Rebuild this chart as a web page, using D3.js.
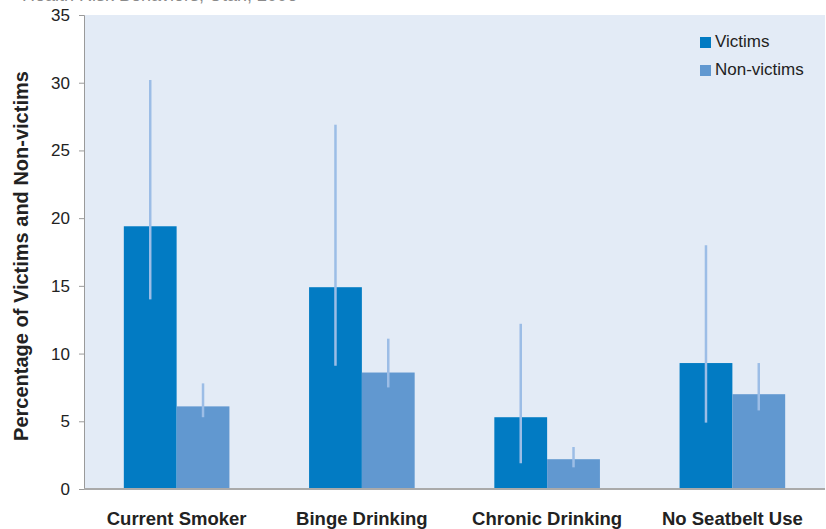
<!DOCTYPE html>
<html>
<head>
<meta charset="utf-8">
<script src="https://cdn.jsdelivr.net/npm/d3@7"></script>
<style>
  html, body { margin: 0; padding: 0; background: #fff; }
  svg { display: block; font-family: Arial, "Liberation Sans", sans-serif; }
</style>
</head>
<body>
<svg id="chart" width="826" height="529"></svg>
<script>
// Health risk behaviours: victims vs non-victims (percent, with confidence intervals)
const categories = ["Current Smoker", "Binge Drinking", "Chronic Drinking", "No Seatbelt Use"];
const seriesNames = ["Victims", "Non-victims"];
const victims = [19.4, 14.9, 5.3, 9.3];
const victimsLow = [14.0, 9.1, 1.9, 4.9];
const victimsHigh = [30.2, 26.9, 12.2, 18.0];
const nonVictims = [6.1, 8.6, 2.2, 7.0];
const nonVictimsLow = [5.3, 7.5, 1.6, 5.8];
const nonVictimsHigh = [7.8, 11.1, 3.1, 9.3];
const yTicks = [0, 5, 10, 15, 20, 25, 30, 35];

const colors = ["#027BC3", "#6198D0"];
const svg = d3.select("#chart");
const margin = { left: 84, top: 15, right: 1, bottom: 40 };
const W = 826, H = 529;
const innerW = W - margin.left - margin.right;
const innerH = H - margin.top - margin.bottom;
const fontStack = "Arial, 'Liberation Sans', sans-serif";

const rows = categories.map((c, i) => ({
  cat: c,
  values: [
    { s: 0, v: victims[i], lo: victimsLow[i], hi: victimsHigh[i] },
    { s: 1, v: nonVictims[i], lo: nonVictimsLow[i], hi: nonVictimsHigh[i] }
  ]
}));

const x0 = d3.scaleBand().domain(categories).range([0, innerW]).paddingInner(0.43).paddingOuter(0.215);
const x1 = d3.scaleBand().domain([0, 1]).range([0, x0.bandwidth()]);
const y = d3.scaleLinear().domain([0, 35]).range([innerH, 0]);

// heading above the plot, mostly running off the top edge
svg.append("text").attr("x", 22).attr("y", 0.5)
  .attr("font-size", 18).attr("fill", "#8a8a8a")
  .text("Health Risk Behaviors, Utah, 2006");

const g = svg.append("g").attr("transform", `translate(${margin.left},${margin.top})`);

g.append("rect").attr("width", innerW).attr("height", innerH).attr("fill", "#E3EBF6");

const groups = g.selectAll(".grp").data(rows).join("g")
  .attr("transform", d => `translate(${x0(d.cat)},0)`);

groups.selectAll("rect.bar").data(d => d.values).join("rect")
  .attr("class", "bar")
  .attr("x", d => x1(d.s))
  .attr("width", x1.bandwidth())
  .attr("y", d => y(d.v))
  .attr("height", d => innerH - y(d.v))
  .attr("fill", d => colors[d.s]);

groups.selectAll("line.err").data(d => d.values).join("line")
  .attr("class", "err")
  .attr("x1", d => x1(d.s) + x1.bandwidth() / 2)
  .attr("x2", d => x1(d.s) + x1.bandwidth() / 2)
  .attr("y1", d => y(d.lo))
  .attr("y2", d => y(d.hi))
  .attr("stroke", "#9CBDE6")
  .attr("stroke-width", 2.5);

// y axis
const yAxis = g.append("g").call(d3.axisLeft(y).tickValues(yTicks).tickSize(5).tickPadding(9));
yAxis.select(".domain").attr("stroke", "#9a9a9a");
yAxis.selectAll(".tick line").attr("stroke", "#9a9a9a");
yAxis.selectAll(".tick text").attr("font-size", 17).attr("fill", "#222").attr("font-family", fontStack);

// baseline
g.append("line").attr("x1", 0).attr("x2", innerW).attr("y1", innerH).attr("y2", innerH)
  .attr("stroke", "#aaaaaa").attr("stroke-width", 2);

// x labels
const xAxis = g.append("g").attr("transform", `translate(0,${innerH})`)
  .call(d3.axisBottom(x0).tickSize(0).tickPadding(23));
xAxis.select(".domain").remove();
xAxis.selectAll(".tick text").attr("font-size", 18.5).attr("font-weight", "bold").attr("fill", "#222")
  .attr("font-family", fontStack);

// y title
svg.append("text")
  .attr("transform", `translate(28,${margin.top + innerH / 2 + 4}) rotate(-90)`)
  .attr("text-anchor", "middle")
  .attr("font-size", 20).attr("font-weight", "bold").attr("fill", "#222")
  .text("Percentage of Victims and Non-victims");

// legend
const legend = g.append("g").attr("transform", "translate(616,22)");
seriesNames.forEach((name, i) => {
  const row = legend.append("g").attr("transform", `translate(0,${i * 28})`);
  row.append("rect").attr("width", 11).attr("height", 11).attr("fill", colors[i]);
  row.append("text").attr("x", 15).attr("y", 10).attr("font-size", 17).attr("fill", "#222").text(name);
});
</script>
</body>
</html>
